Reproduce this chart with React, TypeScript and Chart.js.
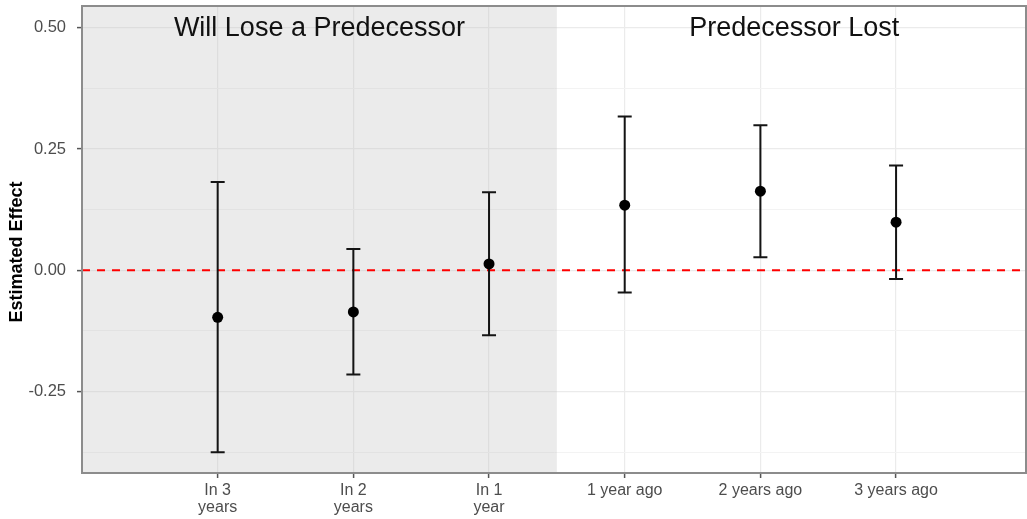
import React, { useEffect, useRef } from 'react';
import { Chart, registerables } from 'chart.js';

Chart.register(...registerables);

// ---- data ----
const categories: (string | string[])[] = [
  ['In 3', 'years'],
  ['In 2', 'years'],
  ['In 1', 'year'],
  '1 year ago',
  '2 years ago',
  '3 years ago',
];
const categoryPositions = [1, 2, 3, 4, 5, 6];
const estimates = [-0.097, -0.086, 0.013, 0.134, 0.163, 0.099];
const upperBounds = [0.182, 0.044, 0.161, 0.317, 0.299, 0.216];
const lowerBounds = [-0.375, -0.215, -0.134, -0.046, 0.027, -0.018];
const yMajorTicks = [-0.25, 0, 0.25, 0.5];
const yMinorTicks = [-0.375, -0.125, 0.125, 0.375];
const periodLabels = ['Will Lose a Predecessor', 'Predecessor Lost'];
const periodLabelX = [1.75, 5.25];
const periodLabelY = 0.5;
const shadeEnd = 3.5;
const referenceLine = 0;
const yTitle = 'Estimated Effect';

const FONT = '"Liberation Sans", Arial, Helvetica, sans-serif';

const isMajor = (v: number) => yMajorTicks.some((m) => Math.abs(m - v) < 1e-9);

const decorPlugin = {
  id: 'decor',
  beforeDatasetsDraw(chart: any) {
    const { ctx, chartArea: ca, scales } = chart;
    const x = scales.x;
    const y = scales.y;
    ctx.save();
    ctx.beginPath();
    ctx.rect(ca.left, ca.top, ca.right - ca.left, ca.bottom - ca.top);
    ctx.clip();

    // shaded "before" region
    const xe = x.getPixelForValue(shadeEnd);
    ctx.fillStyle = 'rgba(190,190,190,0.3)';
    ctx.fillRect(ca.left, ca.top, xe - ca.left, ca.bottom - ca.top);

    // period labels
    ctx.fillStyle = '#111';
    ctx.font = `27px ${FONT}`;
    ctx.textAlign = 'center';
    ctx.textBaseline = 'middle';
    periodLabels.forEach((t, i) => {
      ctx.fillText(t, x.getPixelForValue(periodLabelX[i]), y.getPixelForValue(periodLabelY) + 1);
    });

    // reference line
    const y0 = y.getPixelForValue(referenceLine);
    ctx.strokeStyle = '#FF0000';
    ctx.lineWidth = 2;
    ctx.setLineDash([8, 7]);
    ctx.beginPath();
    ctx.moveTo(ca.left, y0);
    ctx.lineTo(ca.right, y0);
    ctx.stroke();
    ctx.setLineDash([]);

    // error bars
    ctx.strokeStyle = '#141414';
    ctx.lineWidth = 2;
    categoryPositions.forEach((pos, i) => {
      const px = x.getPixelForValue(pos);
      const yt = y.getPixelForValue(upperBounds[i]);
      const yb = y.getPixelForValue(lowerBounds[i]);
      ctx.beginPath();
      ctx.moveTo(px, yt);
      ctx.lineTo(px, yb);
      ctx.moveTo(px - 7, yt);
      ctx.lineTo(px + 7, yt);
      ctx.moveTo(px - 7, yb);
      ctx.lineTo(px + 7, yb);
      ctx.stroke();
    });
    ctx.restore();
  },
  afterDraw(chart: any) {
    const { ctx, chartArea: ca } = chart;
    ctx.save();
    // panel border
    ctx.strokeStyle = '#8c8c8c';
    ctx.lineWidth = 2;
    ctx.strokeRect(ca.left, ca.top, ca.right - 1 - ca.left, ca.bottom - ca.top);
    // y axis title
    ctx.translate(17, 252);
    ctx.rotate(-Math.PI / 2);
    ctx.fillStyle = '#000';
    ctx.font = `bold 18px ${FONT}`;
    ctx.textAlign = 'center';
    ctx.textBaseline = 'middle';
    ctx.fillText(yTitle, 0, 0);
    ctx.restore();
  },
};

export default function App() {
  const ref = useRef<HTMLCanvasElement | null>(null);

  useEffect(() => {
    if (!ref.current) return;
    const chart = new Chart(ref.current, {
      type: 'scatter',
      data: {
        datasets: [
          {
            label: 'Estimate',
            data: categoryPositions.map((p, i) => ({ x: p, y: estimates[i] })),
            backgroundColor: '#000',
            borderWidth: 0,
            pointRadius: 5.5,
            pointHoverRadius: 5.5,
          },
        ],
      },
      options: {
        animation: false,
        responsive: false,
        events: [],
        layout: { autoPadding: false, padding: { top: 6, right: 0, bottom: 0, left: 0 } },
        plugins: {
          legend: { display: false },
          tooltip: { enabled: false },
          title: { display: false },
        },
        scales: {
          x: {
            type: 'linear',
            min: 0,
            max: 6.965,
            afterBuildTicks: (scale: any) => {
              scale.ticks = categoryPositions.map((v) => ({ value: v }));
            },
            afterFit: (scale: any) => {
              scale.height = 46;
              scale.paddingLeft = 0;
              scale.paddingRight = 0;
            },
            border: { display: false },
            grid: {
              color: '#EBEBEB',
              lineWidth: 1.2,
              drawTicks: true,
              tickLength: 5,
              tickColor: '#555',
              tickWidth: 1.5,
            },
            ticks: {
              autoSkip: false,
              maxRotation: 0,
              minRotation: 0,
              padding: 4,
              color: '#4D4D4D',
              font: { family: FONT, size: 16, lineHeight: 1.05 },
              callback: (_v: any, i: number) => categories[i] as any,
            },
          },
          y: {
            type: 'linear',
            min: -0.418,
            max: 0.5447,
            afterBuildTicks: (scale: any) => {
              scale.ticks = [...yMinorTicks, ...yMajorTicks]
                .sort((a, b) => a - b)
                .map((v) => ({ value: v }));
            },
            afterFit: (scale: any) => {
              scale.width = 82;
              scale.paddingTop = 0;
              scale.paddingBottom = 0;
            },
            border: { display: false },
            grid: {
              color: (c: any) => (isMajor(c.tick?.value) ? '#EBEBEB' : '#F3F3F3'),
              lineWidth: (c: any) => (isMajor(c.tick?.value) ? 1.2 : 1),
              drawTicks: true,
              tickLength: 5,
              tickColor: (c: any) => (isMajor(c.tick?.value) ? '#555' : 'rgba(0,0,0,0)'),
              tickWidth: 1.5,
            },
            ticks: {
              padding: 11,
              color: '#4D4D4D',
              font: { family: FONT, size: 16.5 },
              callback: (v: any) => (isMajor(Number(v)) ? Number(v).toFixed(2) : ''),
            },
          },
        },
      },
      plugins: [decorPlugin],
    } as any);
    return () => chart.destroy();
  }, []);

  return (
    <div style={{ position: 'absolute', left: 0, top: 0, width: 1027, height: 519, background: '#fff' }}>
      <canvas ref={ref} width={1027} height={519} style={{ display: 'block' }} />
    </div>
  );
}
